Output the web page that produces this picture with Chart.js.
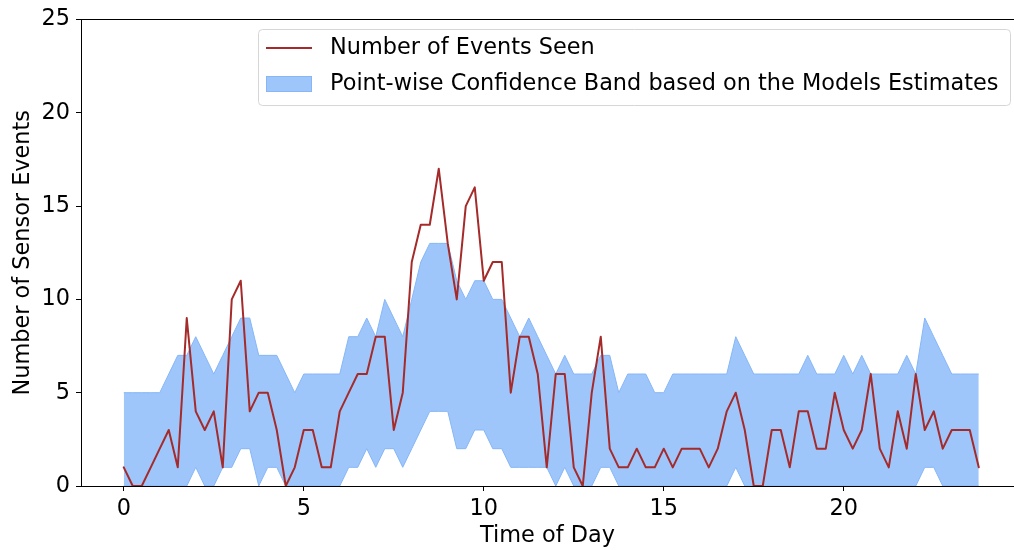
<!DOCTYPE html>
<html>
<head>
<meta charset="utf-8">
<script src="https://cdn.jsdelivr.net/npm/chart.js@4/dist/chart.umd.min.js"></script>
<style>
  html, body { margin: 0; padding: 0; background: #fff; overflow: hidden; }
  #chart { display: block; }
</style>
</head>
<body>
<canvas id="chart" width="1014" height="550"></canvas>
<script>
// time of day, every 15 minutes
const hours = [
  0, 0.25, 0.5, 0.75, 1, 1.25, 1.5, 1.75, 2, 2.25, 2.5, 2.75, 3, 3.25, 3.5, 3.75,
  4, 4.25, 4.5, 4.75, 5, 5.25, 5.5, 5.75, 6, 6.25, 6.5, 6.75, 7, 7.25, 7.5, 7.75,
  8, 8.25, 8.5, 8.75, 9, 9.25, 9.5, 9.75, 10, 10.25, 10.5, 10.75, 11, 11.25, 11.5, 11.75,
  12, 12.25, 12.5, 12.75, 13, 13.25, 13.5, 13.75, 14, 14.25, 14.5, 14.75, 15, 15.25, 15.5, 15.75,
  16, 16.25, 16.5, 16.75, 17, 17.25, 17.5, 17.75, 18, 18.25, 18.5, 18.75, 19, 19.25, 19.5, 19.75,
  20, 20.25, 20.5, 20.75, 21, 21.25, 21.5, 21.75, 22, 22.25, 22.5, 22.75, 23, 23.25, 23.5, 23.75
];

const eventsSeen = [
  1, 0, 0, 1, 2, 3, 1, 9, 4, 3, 4, 1, 10, 11, 4, 5, 5, 3, 0, 1,
  3, 3, 1, 1, 4, 5, 6, 6, 8, 8, 3, 5, 12, 14, 14, 17, 13, 10, 15, 16,
  11, 12, 12, 5, 8, 8, 6, 1, 6, 6, 1, 0, 5, 8, 2, 1, 1, 2, 1, 1,
  2, 1, 2, 2, 2, 1, 2, 4, 5, 3, 0, 0, 3, 3, 1, 4, 4, 2, 2, 5,
  3, 2, 3, 6, 2, 1, 4, 2, 6, 3, 4, 2, 3, 3, 3, 1
];

const bandUpper = [
  5, 5, 5, 5, 5, 6, 7, 7, 8, 7, 6, 7, 8, 9, 9, 7, 7, 7, 6, 5,
  6, 6, 6, 6, 6, 8, 8, 9, 8, 10, 9, 8, 10, 12, 13, 13, 13, 11, 10, 11,
  11, 10, 10, 9, 8, 9, 8, 7, 6, 7, 6, 6, 6, 7, 7, 5, 6, 6, 6, 5,
  5, 6, 6, 6, 6, 6, 6, 6, 8, 7, 6, 6, 6, 6, 6, 6, 7, 6, 6, 6,
  7, 6, 7, 6, 6, 6, 6, 7, 6, 9, 8, 7, 6, 6, 6, 6
];

const bandLower = [
  0, 0, 0, 0, 0, 0, 0, 0, 1, 0, 0, 1, 1, 2, 2, 0, 1, 1, 0, 0,
  0, 0, 0, 0, 0, 1, 1, 2, 1, 2, 2, 1, 2, 3, 4, 4, 4, 2, 2, 3,
  3, 2, 2, 1, 1, 1, 1, 1, 0, 1, 0, 0, 0, 1, 1, 0, 0, 0, 0, 0,
  0, 0, 0, 0, 0, 0, 0, 0, 1, 0, 0, 0, 0, 0, 0, 0, 0, 0, 0, 0,
  0, 0, 0, 0, 0, 0, 0, 0, 0, 1, 1, 0, 0, 0, 0, 0
];

const xTicks = [0, 5, 10, 15, 20];
const yTicks = [0, 5, 10, 15, 20, 25];

const lineLabel = 'Number of Events Seen';
const bandLabel = 'Point-wise Confidence Band based on the Models Estimates';

const lineColor = '#a52a2a';
const bandFill = '#9ec6fb';
const bandEdge = '#86b6f6';
const font = { family: "'DejaVu Sans', sans-serif", size: 22.4 };

function toPoints(vals) {
  return hours.map((h, i) => ({ x: h, y: vals[i] }));
}

// matplotlib-like legend box drawn inside the plot
const boxLegend = {
  id: 'boxLegend',
  afterDraw(chart) {
    const ctx = chart.ctx;
    const x = 258, y = 29, w = 752, h = 76;
    ctx.save();
    ctx.beginPath();
    ctx.roundRect(x + 0.5, y + 0.5, w, h, 4);
    ctx.fillStyle = 'rgba(255,255,255,0.8)';
    ctx.fill();
    ctx.strokeStyle = '#d6d6d6';
    ctx.lineWidth = 1;
    ctx.stroke();

    ctx.font = font.size + 'px ' + font.family;
    ctx.fillStyle = '#000';
    ctx.textBaseline = 'middle';

    // line entry
    ctx.strokeStyle = lineColor;
    ctx.lineWidth = 2;
    ctx.beginPath();
    ctx.moveTo(266, 48);
    ctx.lineTo(312, 48);
    ctx.stroke();
    ctx.fillText(lineLabel, 330, 48);

    // band entry
    ctx.fillStyle = bandFill;
    ctx.fillRect(266, 76, 46, 16);
    ctx.strokeStyle = bandEdge;
    ctx.lineWidth = 1;
    ctx.strokeRect(266.5, 76.5, 45, 15);
    ctx.fillStyle = '#000';
    ctx.fillText(bandLabel, 330, 84);
    ctx.restore();
  }
};

// top spine
const topSpine = {
  id: 'topSpine',
  afterDraw(chart) {
    const { ctx, chartArea } = chart;
    ctx.save();
    ctx.fillStyle = '#000';
    ctx.fillRect(chartArea.left, Math.floor(chartArea.top), chartArea.right - chartArea.left, 1);
    ctx.restore();
  }
};

const ctx = document.getElementById('chart').getContext('2d');
new Chart(ctx, {
  type: 'line',
  data: {
    datasets: [
      {
        label: lineLabel,
        data: toPoints(eventsSeen),
        borderColor: lineColor,
        borderWidth: 2,
        borderJoinStyle: 'round',
        borderCapStyle: 'round',
        pointRadius: 0,
        fill: false
      },
      {
        label: 'lower',
        data: toPoints(bandLower),
        borderColor: bandEdge,
        borderWidth: 1,
        pointRadius: 0,
        fill: false
      },
      {
        label: bandLabel,
        data: toPoints(bandUpper),
        borderColor: bandEdge,
        backgroundColor: bandFill,
        borderWidth: 1,
        pointRadius: 0,
        fill: '-1'
      }
    ]
  },
  options: {
    responsive: false,
    animation: false,
    layout: { padding: { top: 19, right: 0, left: 0, bottom: 0 } },
    elements: { line: { tension: 0 } },
    plugins: {
      legend: { display: false },
      tooltip: { enabled: false }
    },
    scales: {
      x: {
        type: 'linear',
        min: -1.1875,
        max: 24.729,
        afterBuildTicks: s => { s.ticks = xTicks.map(v => ({ value: v })); },
        afterFit: s => { s.height = 64; },
        ticks: { font: font, color: '#000', padding: 5, autoSkip: false, maxRotation: 0 },
        grid: { display: true, drawOnChartArea: false, drawTicks: true, tickLength: 5, tickColor: '#000' },
        border: { display: true, color: '#000', width: 1 },
        title: { display: true, text: 'Time of Day', font: font, color: '#000', padding: { top: 2.6, bottom: 0 } }
      },
      y: {
        min: 0,
        max: 25,
        afterBuildTicks: s => { s.ticks = yTicks.map(v => ({ value: v })); },
        afterFit: s => { s.width = 81; },
        ticks: { font: font, color: '#000', padding: 6, autoSkip: false },
        grid: { display: true, drawOnChartArea: false, drawTicks: true, tickLength: 5, tickColor: '#000' },
        border: { display: true, color: '#000', width: 1 },
        title: { display: true, text: 'Number of Sensor Events', font: font, color: '#000', padding: { top: 10, bottom: 0 } }
      }
    }
  },
  plugins: [topSpine, boxLegend]
});
</script>
</body>
</html>
